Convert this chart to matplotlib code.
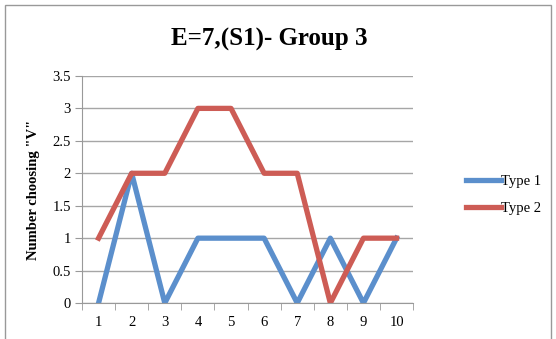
import numpy as np
import matplotlib.pyplot as plt
from matplotlib.patches import Rectangle

# dane
kategorie = ['1', '2', '3', '4', '5', '6', '7', '8', '9', '10']
type1 = [0, 2, 0, 1, 1, 1, 0, 1, 0, 1]
type2 = [1, 2, 2, 3, 3, 2, 2, 0, 1, 1]
y_ticks = [0, 0.5, 1, 1.5, 2, 2.5, 3, 3.5]

plt.rcParams['font.family'] = ['Liberation Serif', 'DejaVu Serif']

fig = plt.figure(figsize=(5.56, 3.39), dpi=100)
ax = fig.add_axes([0.1475, 0.106, 0.5955, 0.67])

x = np.arange(1, len(kategorie) + 1)
ax.plot(x, type1, color='#5B8FCC', lw=3.8, label='Type 1', solid_joinstyle='round')
ax.plot(x, type2, color='#CD5C55', lw=3.8, label='Type 2', solid_joinstyle='round')

ax.set_xlim(0.5, len(kategorie) + 0.5)
ax.set_ylim(0, 3.5)
ax.set_yticks(y_ticks)
ax.set_yticklabels(['0', '0.5', '1', '1.5', '2', '2.5', '3', '3.5'], fontsize=10.5)
ax.set_xticks(x)
ax.set_xticklabels(kategorie, fontsize=10.5)
ax.set_xticks(np.arange(0.5, len(kategorie) + 1, 1), minor=True)
ax.tick_params(axis='x', which='major', length=0, pad=9)
ax.tick_params(axis='x', which='minor', length=5, color='#999999')
ax.tick_params(axis='y', length=5, color='#999999', pad=3)
ax.grid(axis='y', color='#A6A6A6', lw=1)
ax.set_axisbelow(True)
for s in ['top', 'right']:
    ax.spines[s].set_visible(False)
ax.spines['left'].set_color('#999999')
ax.spines['bottom'].set_color('#999999')

ax.set_ylabel('Number choosing "V"', fontsize=10.5, fontweight='bold', labelpad=9)
fig.text(0.485, 0.885, 'E=7,(S1)- Group 3', ha='center', va='center',
         fontsize=18, fontweight='bold')

fig.legend(loc='center left', bbox_to_anchor=(0.815, 0.425), frameon=False,
           fontsize=10.5, handlelength=2.4, handletextpad=0.0, labelspacing=0.9)

# ramka wokół wykresu
fig.patches.append(Rectangle((0.009, -0.05), 0.982, 1.035, transform=fig.transFigure,
                             fill=False, edgecolor='#999999', lw=1))

fig.savefig('out.png', dpi=100)
